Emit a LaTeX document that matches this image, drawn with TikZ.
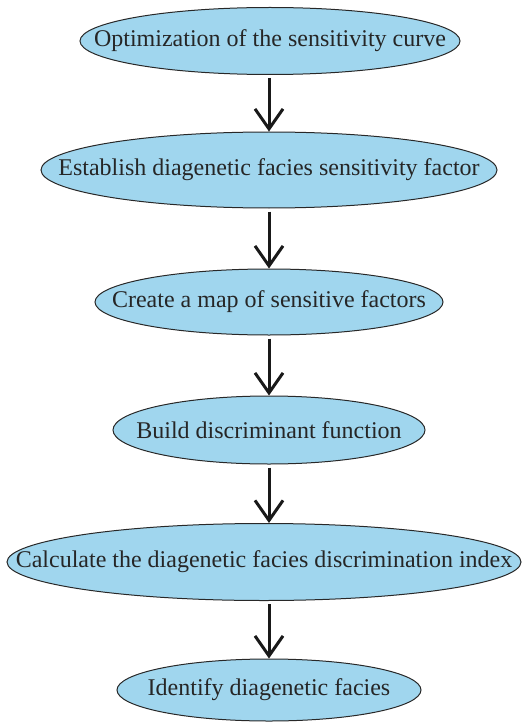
\documentclass[tikz,border=0pt]{standalone}
\usepackage{fontspec}
\setmainfont{Liberation Serif}
\usetikzlibrary{shapes.geometric,arrows.meta}
\definecolor{ellfill}{RGB}{160,214,238}
\definecolor{ellline}{RGB}{40,40,40}
\tikzset{
  stage/.style={ellipse, draw=ellline, line width=1pt, fill=ellfill, inner sep=0pt},
  label/.style={inner sep=0pt, font=\fontsize{24}{28}\selectfont, text=black!85},
  flow/.style={line width=3pt, black!90, shorten <=3pt, -{Straight Barb[length=20pt,width=28pt]}}
}
\begin{document}
\begin{tikzpicture}[x=1pt,y=-1pt]
\useasboundingbox (0,0) rectangle (529,722);
\node[stage, minimum width=380pt, minimum height=67pt] (n1) at (270,41) {};
\node[stage, minimum width=456pt, minimum height=76pt] (n2) at (269,170) {};
\node[stage, minimum width=348pt, minimum height=66pt] (n3) at (269,302) {};
\node[stage, minimum width=312pt, minimum height=68pt] (n4) at (269,430) {};
\node[stage, minimum width=514pt, minimum height=77pt] (n5) at (264,562) {};
\node[stage, minimum width=304pt, minimum height=62pt] (n6) at (269,690) {};
\node[label] (t1) at (n1) {Optimization of the sensitivity curve};
\node[label] (t2) at (n2) {Establish diagenetic facies sensitivity factor};
\node[label] (t3) at (n3) {Create a map of sensitive factors};
\node[label] (t4) at (n4) {Build discriminant function};
\node[label] (t5) at (n5) {Calculate the diagenetic facies discrimination index};
\node[label] (t6) at (n6) {Identify diagenetic facies};
\draw[flow] (n1.south -| 269,0) -- (n2.north -| 269,0);
\draw[flow] (n2.south -| 269,0) -- (n3.north -| 269,0);
\draw[flow] (n3.south -| 269,0) -- (n4.north -| 269,0);
\draw[flow] (n4.south -| 269,0) -- (n5.north -| 269,0);
\draw[flow] (n5.south -| 269,0) -- (n6.north -| 269,0);
\end{tikzpicture}
\end{document}
